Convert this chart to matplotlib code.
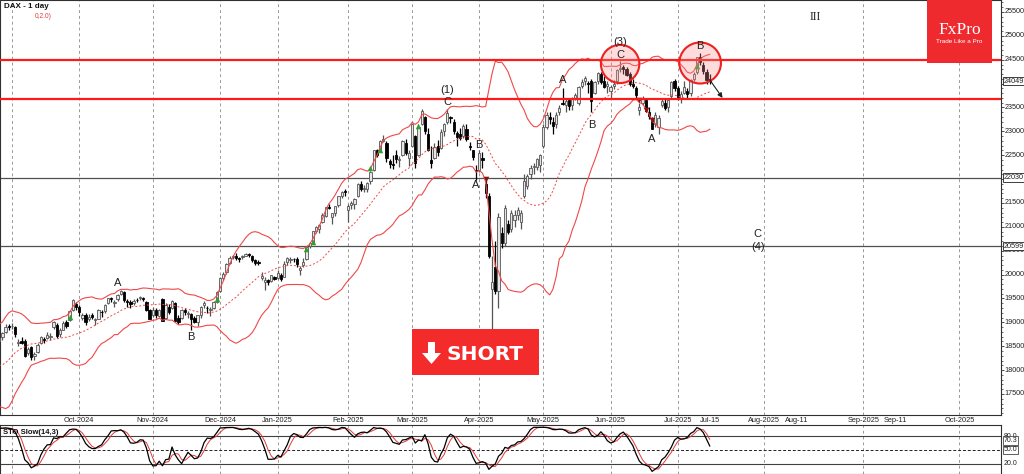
import numpy as np
import pandas as pd
import matplotlib
matplotlib.use("Agg")
import matplotlib.pyplot as plt
from matplotlib.patches import Ellipse, Rectangle, Polygon
from matplotlib.transforms import blended_transform_factory
from matplotlib import font_manager as fm

# ---------------- DATA (DAX daily, 2024-07-29 .. 2025-07-15) ----------------
holidays = ["2024-12-24", "2024-12-25", "2024-12-26", "2024-12-31",
            "2025-01-01", "2025-04-18", "2025-04-21", "2025-05-01"]

opens = [
    18450, 18330, 18450,  # Jul 24
    18580, 17900, 17350, 17490, 17400, 17560, 17750, 17760, 17770, 17900, 18150, 18350, 18380, 18400, 18350, 18490, 18520, 18620, 18620, 18690, 18800, 18930,  # Aug
    18920, 18900, 18560, 18620, 18600, 18350, 18480, 18290, 18380, 18560, 18650, 18680, 18700, 18900, 18950, 18760, 18850, 19010, 19050, 19250, 19380,  # Sep
    19330, 19100, 19150, 19060, 19160, 19050, 19080, 19220, 19230, 19400, 19500, 19400, 19480, 19600, 19640, 19450, 19430, 19400, 19470, 19500, 19520, 19420, 19250,  # Oct
    19150, 19260, 19140, 19480, 19100, 19330, 19300, 19400, 19090, 19100, 19250, 19170, 19170, 19090, 19000, 19150, 19370, 19300, 19260, 19300, 19430,  # Nov
    19650, 19920, 20050, 20250, 20370, 20390, 20340, 20360, 20400, 20440, 20390, 20300, 20250, 19930, 19850, 19880, 19870, 19960,  # Dec
    19930, 20000, 19950, 20260, 20300, 20320, 20330, 20100, 20200, 20330, 20600, 20680, 20920, 20950, 21100, 21230, 21420, 21200, 21290, 21460, 21650, 21750,  # Jan
    21350, 21450, 21480, 21650, 21900, 21800, 21790, 21950, 22200, 22600, 22600, 22800, 22750, 22370, 22320, 22500, 22400, 22500, 22750, 22450,  # Feb
    22700, 22900, 22500, 23150, 23300, 22950, 22400, 22450, 22700, 22650, 23000, 23200, 23300, 23200, 22960, 22950, 22900, 23050, 22700, 22600, 22200,  # Mar
    22200, 22450, 21900, 21650, 19700, 20160, 19650, 20870, 20660, 21050, 20950, 21150, 21250, 21100, 21650, 21850, 22100, 22250, 22250, 22300,  # Apr
    22700, 23100, 23300, 23200, 23150, 23400, 23600, 23560, 23650, 23550, 23700, 23600, 23950, 24050, 24000, 24050, 23800, 24050, 24200, 24050, 23950,  # May
    23850, 23950, 24050, 24300, 24350, 24300, 24200, 24000, 23900, 23450, 23600, 23650, 23400, 23250, 23150, 23100, 23550, 23600, 23500, 23750, 24050,  # Jun
    23900, 23700, 23800, 23850, 23800, 24100, 24250, 24550, 24400, 24250, 24100,  # Jul
]
highs = [
    18470, 18440, 18560,
    18620, 17960, 17480, 17560, 17640, 17700, 17770, 17800, 17830, 18200, 18330, 18390, 18460, 18440, 18470, 18540, 18660, 18700, 18700, 18800, 18970, 18960,
    18990, 18930, 18650, 18700, 18650, 18480, 18510, 18380, 18560, 18720, 18700, 18800, 18780, 19030, 18990, 18880, 19030, 19040, 19260, 19490, 19420,
    19370, 19200, 19200, 19180, 19200, 19100, 19270, 19260, 19380, 19520, 19530, 19470, 19600, 19675, 19650, 19480, 19470, 19480, 19510, 19560, 19540, 19440, 19280,
    19330, 19300, 19290, 19520, 19400, 19380, 19460, 19420, 19150, 19290, 19300, 19240, 19200, 19130, 19160, 19350, 19450, 19340, 19320, 19440, 19650,
    19950, 20050, 20250, 20380, 20420, 20450, 20370, 20420, 20460, 20460, 20410, 20320, 20300, 20050, 19960, 19900, 20000, 19970,
    20100, 20040, 20280, 20360, 20360, 20350, 20370, 20170, 20340, 20600, 20690, 20920, 21010, 21060, 21290, 21420, 21470, 21300, 21440, 21650, 21760, 21800,
    21480, 21550, 21600, 21920, 21960, 21870, 21930, 22160, 22620, 22640, 22820, 22930, 22790, 22420, 22500, 22600, 22480, 22820, 22830, 22600,
    23150, 22930, 23160, 23470, 23330, 23060, 22700, 22760, 22810, 23040, 23170, 23476, 23330, 23250, 23000, 23060, 23160, 23150, 22780, 22620, 22300,
    22600, 22560, 22010, 21700, 20400, 20700, 21300, 21000, 21450, 21150, 21350, 21350, 21420, 21350, 22100, 22100, 22300, 22330, 22450, 22530,
    23150, 23400, 23400, 23300, 23400, 23560, 23911, 23700, 23700, 23720, 23800, 23950, 24100, 24150, 24050, 24100, 24050, 24250, 24250, 24150, 24050,
    23980, 24080, 24300, 24479, 24400, 24350, 24250, 24100, 23950, 23600, 23750, 23700, 23500, 23300, 23400, 23350, 23700, 23700, 23700, 24050, 24100,
    23950, 23850, 24050, 23900, 24100, 24250, 24560, 24639, 24450, 24300, 24200,
]
lows = [
    18290, 18280, 18400,
    18060, 17620, 17025, 17300, 17370, 17530, 17640, 17690, 17720, 17880, 18120, 18290, 18350, 18330, 18300, 18440, 18480, 18580, 18580, 18640, 18770, 18840,
    18870, 18700, 18500, 18540, 18270, 18310, 18210, 18210, 18360, 18540, 18570, 18650, 18640, 18860, 18680, 18690, 18830, 18880, 19020, 19240, 19260,
    19130, 19050, 18950, 19030, 19070, 18940, 19060, 19110, 19200, 19380, 19420, 19330, 19440, 19570, 19430, 19330, 19300, 19360, 19430, 19470, 19450, 19230, 19060,
    19110, 19100, 19110, 19020, 19080, 19180, 19280, 19020, 18960, 19080, 19150, 19100, 18850, 18980, 18930, 19100, 19300, 19190, 19130, 19270, 19410,
    19640, 19880, 20020, 20220, 20330, 20310, 20270, 20320, 20380, 20370, 20270, 20200, 20200, 19880, 19670, 19780, 19850, 19880,
    19900, 19860, 19940, 20200, 20250, 20260, 20150, 20000, 20160, 20300, 20560, 20660, 20880, 20880, 21080, 21200, 21370, 21050, 21230, 21420, 21600, 21640,
    21100, 21380, 21380, 21620, 21750, 21740, 21720, 21900, 22180, 22470, 22560, 22780, 22350, 22230, 22220, 22330, 22260, 22480, 22500, 22270,
    22680, 22230, 22480, 23130, 22950, 22580, 22230, 22420, 22490, 22630, 22900, 23150, 23170, 22950, 22700, 22810, 22870, 22800, 22600, 22400, 21990,
    22150, 22230, 21600, 20350, 18490, 19600, 19300, 20550, 20600, 20850, 20900, 21000, 21150, 20950, 21600, 21800, 22000, 22100, 22200, 22150,
    22650, 23050, 23150, 22950, 23080, 23350, 23550, 23400, 23450, 23450, 23650, 23550, 23900, 23980, 23800, 23400, 23780, 24000, 24000, 23900, 23800,
    23700, 23880, 24000, 24250, 24200, 24150, 23950, 23900, 23700, 23350, 23550, 23400, 23250, 23050, 23100, 22950, 23500, 23450, 23400, 23700, 23850,
    23650, 23600, 23780, 23700, 23750, 24050, 24200, 24400, 24200, 24000, 24000,
]
closes = [
    18320, 18411, 18508,
    18083, 17661, 17339, 17354, 17615, 17680, 17723, 17726, 17812, 18185, 18320, 18322, 18421, 18357, 18448, 18493, 18633, 18617, 18681, 18782, 18913, 18906,
    18931, 18747, 18592, 18576, 18302, 18444, 18266, 18330, 18518, 18699, 18634, 18726, 18711, 19002, 18720, 18847, 18997, 18918, 19238, 19474, 19325,
    19213, 19164, 19015, 19121, 19104, 19066, 19254, 19211, 19373, 19508, 19486, 19432, 19583, 19657, 19461, 19421, 19377, 19443, 19464, 19531, 19479, 19257, 19078,
    19255, 19149, 19256, 19039, 19362, 19215, 19448, 19033, 19003, 19264, 19211, 19189, 19061, 19004, 19146, 19323, 19405, 19295, 19262, 19426, 19626,
    19934, 20017, 20232, 20358, 20385, 20346, 20330, 20399, 20426, 20406, 20314, 20246, 20243, 19970, 19885, 19849, 19985, 19909,
    20025, 19906, 20216, 20340, 20330, 20317, 20215, 20133, 20271, 20575, 20655, 20903, 20990, 21042, 21254, 21411, 21395, 21282, 21430, 21637, 21727, 21732,
    21428, 21505, 21585, 21902, 21787, 21800, 21912, 22148, 22612, 22514, 22798, 22844, 22434, 22315, 22287, 22426, 22410, 22795, 22550, 22551,
    23147, 22327, 23081, 23419, 23009, 22620, 22329, 22676, 22567, 22987, 23154, 23380, 23288, 22999, 22892, 22852, 23109, 22839, 22679, 22461, 22163,
    22539, 22390, 21700, 20400, 19850, 19650, 21200, 20660, 21400, 20900, 21300, 21250, 21350, 21300, 21962, 22064, 22242, 22272, 22426, 22497,
    23087, 23345, 23250, 23116, 23352, 23499, 23567, 23639, 23527, 23695, 23767, 23935, 24036, 24122, 23999, 23630, 24028, 24226, 24039, 23933, 23997,
    23930, 23994, 24276, 24324, 24304, 24174, 23987, 23949, 23771, 23516, 23699, 23434, 23317, 23057, 23350, 23270, 23641, 23498, 23649, 24033, 23910,
    23673, 23790, 23934, 23787, 24074, 24207, 24550, 24457, 24255, 24076, 24049,
]

red_levels = [24500, 23680]
grey_levels = [22030, 20599]
price_ticks = [25500, 25000, 24500, 23500, 23000, 22500, 21500, 21000, 20500,
               20000, 19500, 19000, 18500, 18000, 17500]
boxed_prices = ["24049", "22030", "20599"]

axis_labels = ["Oct-2024", "Nov-2024", "Dec-2024", "Jan-2025", "Feb-2025", "Mar-2025",
               "Apr-2025", "May-2025", "Jun-2025", "Jul-2025", "Jul-15", "Aug-2025",
               "Aug-11", "Sep-2025", "Sep-11", "Oct-2025"]
axis_label_dates = ["2024-10-01", "2024-11-01", "2024-12-02", "2025-01-02", "2025-02-03",
                    "2025-03-03", "2025-04-01", "2025-05-02", "2025-06-02", "2025-07-01",
                    "2025-07-15", "2025-08-01", "2025-08-11", "2025-09-01", "2025-09-11",
                    "2025-10-01"]
grid_dates = ["2024-09-02", "2024-10-01", "2024-11-01", "2024-12-02", "2025-01-02",
              "2025-02-03", "2025-03-03", "2025-04-01", "2025-05-02", "2025-06-02",
              "2025-07-01", "2025-08-01", "2025-09-01", "2025-10-01"]

wave_labels = [("2024-10-17", 19825, "A"), ("2024-11-19", 18694, "B"),
               ("2025-03-18", 23867, "(1)"), ("2025-03-18", 23615, "C"),
               ("2025-04-01", 22715, "B"), ("2025-03-31", 21877, "A"),
               ("2025-05-12", 24076, "A"), ("2025-05-23", 23134, "B"),
               ("2025-06-05", 24872, "(3)"), ("2025-06-05", 24600, "C"),
               ("2025-06-19", 22840, "A"), ("2025-07-10", 24788, "B"),
               ("2025-07-30", 20851, "C"), ("2025-07-30", 20579, "(4)")]
roman_label = ("2025-08-17", 25395, "III")

circles = [("2025-06-05", 24411, 12.0, 800), ("2025-07-10", 24432, 13.0, 860)]
arrow_from = ("2025-07-15", 24080)
arrow_to = ("2025-07-19", 23700)

buy_signals = [("2024-09-26", 19113), ("2024-11-29", 19490), ("2025-01-15", 20537),
               ("2025-01-17", 20683), ("2025-02-12", 22233), ("2025-02-17", 22610),
               ("2025-03-05", 23113), ("2025-07-09", 24369)]
sell_signals = [("2025-04-03", 22003), ("2025-06-13", 23657), ("2025-06-17", 23448),
                ("2025-06-19", 23238)]

stoch_labels = [(80, "80.0", False), (70.3, "70.3", True), (50, "50.0", True), (20, "20.0", False)]

# ---------------- helpers ----------------
names = {f.name for f in fm.fontManager.ttflist}
SANS = "Liberation Sans" if "Liberation Sans" in names else "DejaVu Sans"
NARROW = "Liberation Sans Narrow" if "Liberation Sans Narrow" in names else SANS
SERIF = "Liberation Serif" if "Liberation Serif" in names else "DejaVu Serif"

dates = pd.bdate_range("2024-07-29", "2025-07-15")
dates = dates[~dates.isin(pd.to_datetime(holidays))]
n = len(closes)
assert len(dates) == n == len(opens) == len(highs) == len(lows)
x = np.arange(n)
last = n - 1


def pos(d):
    t = pd.Timestamp(d)
    if t <= dates[-1]:
        return dates.get_loc(t)
    return last + (t - dates[-1]).days


i0 = pos("2024-09-02")

o = np.array(opens, float); h = np.array(highs, float)
l = np.array(lows, float); c = np.array(closes, float)

W, H = 1024, 474
fig = plt.figure(figsize=(W / 100, H / 100), dpi=100)
fig.patch.set_facecolor("white")


def fx(px):
    return px / W


def fy(py):
    return 1 - py / H


ax = fig.add_axes([0, fy(415), 1001 / W, 415 / H])
ax2 = fig.add_axes([0, fy(473.5), 1001 / W, 48.5 / H])
xlim = (i0 - 3.75, i0 + 309)
for a in (ax, ax2):
    a.set_xlim(*xlim)
    a.set_xticks([])
    for s in a.spines.values():
        s.set_color("#303030")
        s.set_linewidth(0.8)
ax.set_ylim(17060, 25751)
ax2.set_ylim(-0.4, 103.6)

# vertical grid
for gd in grid_dates:
    for a in (ax, ax2):
        a.axvline(pos(gd), color="#9a9a9a", lw=0.7, ls=(0, (3, 3)), zorder=0)

# horizontal levels
for lv in grey_levels:
    ax.axhline(lv, color="#505050", lw=0.9, zorder=1)

# Bollinger bands (20, 2.0)
cs = pd.Series(c)
mid = cs.rolling(20).mean()
sd = cs.rolling(20).std(ddof=0)
ax.plot(x, mid + 2 * sd, color="#f04848", lw=0.8, zorder=4)
ax.plot(x, mid - 2 * sd, color="#f04848", lw=0.8, zorder=4)
ax.plot(x, mid, color="#f04848", lw=0.7, ls=(0, (2, 2)), zorder=4)

# candles
upm = c >= o
ax.vlines(x[upm], l[upm], h[upm], colors="#555555", lw=0.9, zorder=2)
ax.vlines(x[~upm], l[~upm], h[~upm], colors="#000000", lw=0.9, zorder=2)
bb = np.minimum(o, c)
bh = np.maximum(np.abs(c - o), 12)
ax.bar(x[upm], bh[upm], bottom=bb[upm], width=0.72, color="#e6e6e6",
       edgecolor="#555555", lw=0.6, zorder=3)
ax.bar(x[~upm], bh[~upm], bottom=bb[~upm], width=0.72, color="#000000",
       edgecolor="#000000", lw=0.6, zorder=3)

# signals
ax.scatter([pos(d) for d, _ in buy_signals], [p for _, p in buy_signals], marker="^",
           s=16, color="#2fa02f", zorder=5, lw=0)
ax.scatter([pos(d) for d, _ in sell_signals], [p for _, p in sell_signals], marker="v",
           s=16, color="#8b1010", zorder=5, lw=0)

# red levels
for lv in red_levels:
    ax.axhline(lv, color="#ff1a1a", lw=1.6, zorder=6)

# circles
for d, p, wdt, hgt in circles:
    ax.add_patch(Ellipse((pos(d), p), wdt, hgt, fc=(1, 0.55, 0.55, 0.3),
                         ec="#ee2020", lw=1.5, zorder=7))

# arrow
ax.annotate("", xy=(pos(arrow_to[0]), arrow_to[1]), xytext=(pos(arrow_from[0]), arrow_from[1]),
            arrowprops=dict(arrowstyle="-|>", color="#202020", lw=0.8,
                            mutation_scale=7, shrinkA=0, shrinkB=0), zorder=8)

# wave labels
for d, p, t in wave_labels:
    ax.text(pos(d), p, t, ha="center", va="center", fontsize=8, family=SANS,
            color="#202020", zorder=9)
ax.text(pos(roman_label[0]), roman_label[1], roman_label[2], ha="center", va="center",
        fontsize=8.5, family=SERIF, color="#202020")

# right price axis
ax.yaxis.tick_right()
ax.set_yticks(np.arange(17100, 25800, 100), minor=True)
ax.set_yticks(price_ticks + [24000, 22000])
ax.set_yticklabels([])
ax.tick_params(axis="y", which="major", length=2.5, width=0.6, color="#303030", pad=1)
ax.tick_params(axis="y", which="minor", length=1.3, width=0.5, color="#303030")
ytr = blended_transform_factory(ax.transAxes, ax.transData)
for p in price_ticks:
    ax.text(1.0035, p, str(p), transform=ytr, fontsize=5.2, family=NARROW, va="center",
            ha="left", clip_on=False, color="#202020")
for t in boxed_prices:
    ax.text(1.003, float(t), t, transform=ytr, fontsize=5.2, family=NARROW, va="center",
            ha="left", clip_on=False, color="#202020", zorder=10,
            bbox=dict(boxstyle="square,pad=0.1", fc="white", ec="#202020", lw=0.6))

# date labels
dtr = blended_transform_factory(ax.transData, fig.transFigure)
for lab, d in zip(axis_labels, axis_label_dates):
    ax.text(pos(d), fy(420.5), lab, transform=dtr, fontsize=5.3, family=SANS,
            ha="center", va="center", clip_on=False, color="#202020")

# stochastic slow (14,3)
hs = pd.Series(h); ls_ = pd.Series(l)
ll = ls_.rolling(14).min(); hh = hs.rolling(14).max()
k = (cs - ll).rolling(3).sum() / (hh - ll).rolling(3).sum() * 100
dline = k.rolling(3).mean()
ax2.axhline(80, color="#404040", lw=0.8)
ax2.axhline(20, color="#404040", lw=0.8)
ax2.axhline(50, color="#202020", lw=0.7, ls=(0, (3, 2)))
ax2.plot(x, dline, color="#e03a3a", lw=0.7, zorder=3)
ax2.plot(x, k, color="#000000", lw=0.9, zorder=4)
ax2.set_yticks([])
str_ = blended_transform_factory(ax2.transAxes, ax2.transData)
for v, t, boxed in stoch_labels:
    kw = dict(bbox=dict(boxstyle="square,pad=0.08", fc="white", ec="#202020", lw=0.5)) if boxed else {}
    ax2.text(1.003, v, t, transform=str_, fontsize=5.0, family=NARROW, va="center",
             ha="left", clip_on=False, color="#202020", zorder=10 if boxed else 5, **kw)
fig.text(fx(3), fy(433), "STO Slow(14,3)", fontsize=5.5, family=SANS, fontweight="bold",
         va="center", ha="left", color="#101010")

# title
fig.text(fx(4), fy(6), "DAX - 1 day", fontsize=5.8, family=SANS, fontweight="bold",
         va="center", ha="left", color="#101010")
fig.text(fx(35), fy(16), "0,2.0)", fontsize=4.8, family=SANS, va="center", ha="left",
         color="#e04040")

# FxPro logo box
fig.add_artist(Rectangle((fx(927), fy(63)), 65 / W, 63 / H, transform=fig.transFigure,
                         fc="#ee2a2f", ec="none", zorder=20))
fig.text(fx(959.5), fy(30), "FxPro", fontsize=12.5, family=SERIF, color="white",
         ha="center", va="center", zorder=21)
fig.text(fx(959.5), fy(41.5), "Trade Like a Pro", fontsize=4.6, family=SANS, color="white",
         ha="center", va="center", zorder=21)

# SHORT box
fig.add_artist(Rectangle((fx(412), fy(375)), 127 / W, 46 / H, transform=fig.transFigure,
                         fc="#f42b2b", ec="none", zorder=20))
arrow_pts = [(428, 342), (435, 342), (435, 353), (441, 353), (431.5, 364), (422, 353), (428, 353)]
fig.add_artist(Polygon([(fx(px), fy(py)) for px, py in arrow_pts], closed=True,
                       transform=fig.transFigure, fc="white", ec="none", zorder=21))
fig.text(fx(446), fy(359.5), "SHORT", fontsize=14.5, family="DejaVu Sans", fontweight="bold",
         color="white", ha="left", va="baseline", zorder=21)

fig.savefig("out.png", dpi=100)
